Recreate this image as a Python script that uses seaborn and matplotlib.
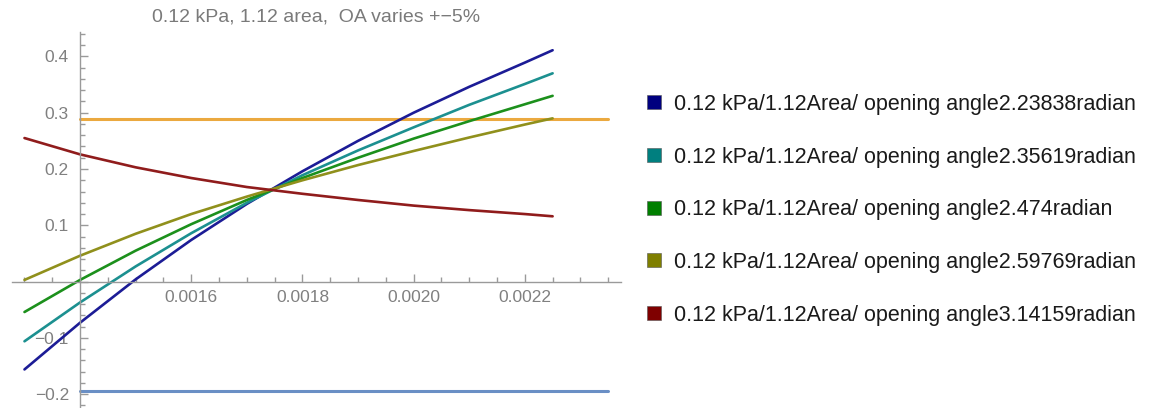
import numpy as np
import pandas as pd
import matplotlib
matplotlib.use("Agg")
import matplotlib.pyplot as plt
import seaborn as sns
from matplotlib.lines import Line2D
from matplotlib.ticker import MultipleLocator, FuncFormatter

# ---- data ----
x_vals = [0.0013, 0.0014, 0.0015, 0.0016, 0.0017, 0.0018, 0.0019, 0.0020, 0.0021, 0.0022, 0.00225]
oa_223838 = [-0.156, -0.073, 0.004, 0.074, 0.138, 0.196, 0.250, 0.300, 0.346, 0.389, 0.411]
oa_235619 = [-0.106, -0.037, 0.027, 0.086, 0.140, 0.189, 0.233, 0.274, 0.314, 0.351, 0.370]
oa_2474 = [-0.054, 0.003, 0.055, 0.102, 0.145, 0.184, 0.220, 0.254, 0.285, 0.315, 0.330]
oa_259769 = [0.003, 0.046, 0.085, 0.120, 0.151, 0.180, 0.207, 0.232, 0.256, 0.279, 0.290]
oa_314159 = [0.255, 0.226, 0.203, 0.184, 0.168, 0.156, 0.145, 0.135, 0.127, 0.120, 0.116]

series_labels = [
    "0.12 kPa/1.12Area/ opening angle2.23838radian",
    "0.12 kPa/1.12Area/ opening angle2.35619radian",
    "0.12 kPa/1.12Area/ opening angle2.474radian",
    "0.12 kPa/1.12Area/ opening angle2.59769radian",
    "0.12 kPa/1.12Area/ opening angle3.14159radian",
]
ref_x = [0.0014, 0.00235]
ref_upper = 0.289
ref_lower = -0.194
title = "0.12 kPa, 1.12 area,  OA varies +\u22125%"

# ---- styles ----
line_colors = ["#1c1c96", "#1c9090", "#1c901c", "#90901c", "#901c1c"]
legend_colors = ["#00007f", "#007f7f", "#007f00", "#7f7f00", "#7f0000"]

sns.set_theme(style="white")
plt.rcParams['font.family'] = ['Liberation Sans', 'DejaVu Sans']

W, H = 1157, 408
fig = plt.figure(figsize=(W / 100, H / 100), dpi=100)
ax_left, ax_right, ax_top = 11.7, 621.0, 31.7
ax = fig.add_axes([ax_left / W, 0.0, (ax_right - ax_left) / W, 1 - ax_top / H])

all_series = [oa_223838, oa_235619, oa_2474, oa_259769, oa_314159]
df = pd.DataFrame({
    "x": np.tile(x_vals, len(all_series)),
    "y": np.concatenate(all_series),
    "series": np.repeat(series_labels, len(x_vals)),
})

# horizontal reference lines
sns.lineplot(x=ref_x, y=[ref_upper, ref_upper], color="#eba93f", linewidth=2.2, ax=ax)
sns.lineplot(x=ref_x, y=[ref_lower, ref_lower], color="#6a8fc5", linewidth=2.2, ax=ax)

sns.lineplot(data=df, x="x", y="y", hue="series", palette=line_colors,
             hue_order=series_labels, linewidth=1.9, legend=False,
             sort=False, estimator=None, ax=ax)

ax.set_xlim(0.001277, 0.002373)
ax.set_ylim(-0.2245, 0.4439)
ax.set_xlabel("")
ax.set_ylabel("")

for s in ["top", "right"]:
    ax.spines[s].set_visible(False)
ax.spines["left"].set_position(("data", 0.0014))
ax.spines["bottom"].set_position(("data", 0.0))
for s in ["left", "bottom"]:
    ax.spines[s].set_color("#9a9a9a")
    ax.spines[s].set_linewidth(1.0)

ax.xaxis.set_major_locator(MultipleLocator(0.0002))
ax.xaxis.set_minor_locator(MultipleLocator(0.00005))
ax.yaxis.set_major_locator(MultipleLocator(0.1))
ax.yaxis.set_minor_locator(MultipleLocator(0.02))


def xfmt(v, pos):
    if abs(v - 0.0014) < 1e-7:
        return ""
    return f"{v:.4f}"


def yfmt(v, pos):
    if abs(v) < 1e-9:
        return ""
    return f"{v:.1f}".replace("-", "\u2212")


ax.xaxis.set_major_formatter(FuncFormatter(xfmt))
ax.yaxis.set_major_formatter(FuncFormatter(yfmt))
ax.tick_params(which="both", direction="in", color="#9a9a9a", width=1.0,
               labelcolor="#808080", labelsize=12.5, bottom=True, left=True)
ax.tick_params(which="major", length=6)
ax.tick_params(which="minor", length=3.5)
ax.tick_params(axis="x", pad=6)
ax.tick_params(axis="y", pad=8)

fig.text(316 / W, 1 - 17.5 / H, title, ha="center", va="center",
         color="#7a7a7a", fontsize=14)

handles = [Line2D([], [], linestyle="none", marker="s", markersize=10.5,
                  markerfacecolor=c, markeredgecolor="#555555", markeredgewidth=0.4)
           for c in legend_colors]
fig.legend(handles, series_labels, loc="upper left",
           bbox_to_anchor=(645.7 / W, 1 - 94 / H), frameon=False,
           fontsize=15.5, labelspacing=1.47, handlelength=0.8, handletextpad=0.5,
           borderpad=0, borderaxespad=0, labelcolor="#1a1a1a")

fig.savefig("out.png", dpi=100)
